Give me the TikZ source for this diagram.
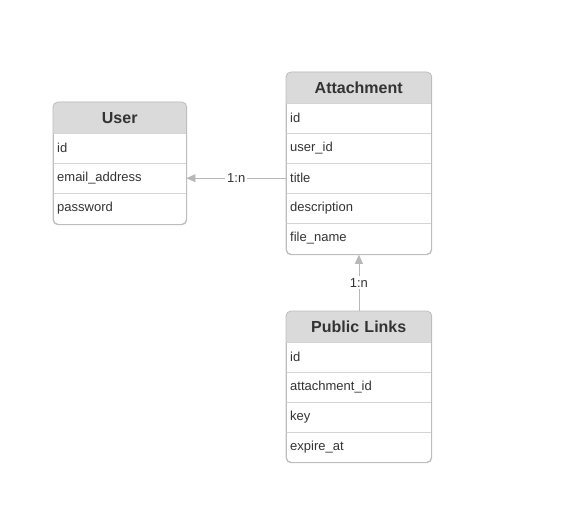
\documentclass[tikz,border=0pt]{standalone}
\usepackage{fontspec}
\setmainfont{Liberation Sans}
\usetikzlibrary{arrows.meta}
\definecolor{bd}{HTML}{BDBDBD}
\definecolor{sepc}{HTML}{D4D4D4}
\definecolor{hdr}{HTML}{DADADA}
\definecolor{txt}{HTML}{333333}
\definecolor{lnc}{HTML}{B8B8B8}
\begin{document}
\begin{tikzpicture}[x=1pt,y=-1pt,
  tbl/.style={draw=bd, fill=white, rounded corners=5pt, anchor=north west, inner sep=0pt, line width=0.8pt},
  hdrcell/.style={anchor=north west, minimum height=31pt, text width=#1, align=center, inner sep=0pt, font=\fontsize{16}{19}\selectfont\bfseries, text=txt},
  rowcell/.style={anchor=north west, minimum height=30pt, text width=#1, align=left, inner xsep=4pt, inner ysep=0pt, font=\fontsize{13}{15}\selectfont, text=txt},
  sepline/.style={draw=sepc, line width=0.8pt},
  conn/.style={draw=lnc, line width=0.8pt, -{Triangle[width=8pt,length=9pt]}},
  lbl/.style={fill=white, inner sep=2pt, font=\fontsize{13}{15}\selectfont, text=txt}
]
\useasboundingbox (0,0) rectangle (568,508);

% ---------- User ----------
\node[tbl, minimum width=133pt, minimum height=122pt] (user) at (53,102) {};
\begin{scope}
  \clip[rounded corners=5pt] (user.north west) rectangle (user.south east);
  \fill[hdr] (53,102) rectangle (186,133);
\end{scope}
\node[hdrcell=133pt] (user-h) at (53,102) {User};
\node[rowcell=125pt] (user-id) at (53,133) {id};
\node[rowcell=125pt] (user-email) at (53,163) {email\_address};
\node[rowcell=125pt] (user-pw) at (53,193) {password};
\foreach \r in {user-id,user-email,user-pw} \draw[sepline] (\r.north west) -- (\r.north east);
\draw[draw=bd, line width=0.8pt, rounded corners=5pt] (user.north west) rectangle (user.south east);

% ---------- Attachment ----------
\node[tbl, minimum width=145pt, minimum height=182pt] (att) at (286,72) {};
\begin{scope}
  \clip[rounded corners=5pt] (att.north west) rectangle (att.south east);
  \fill[hdr] (286,72) rectangle (431,103);
\end{scope}
\node[hdrcell=145pt] (att-h) at (286,72) {Attachment};
\node[rowcell=137pt] (att-id) at (286,103) {id};
\node[rowcell=137pt] (att-uid) at (286,133) {user\_id};
\node[rowcell=137pt] (att-title) at (286,163) {title};
\node[rowcell=137pt] (att-desc) at (286,193) {description};
\node[rowcell=137pt] (att-file) at (286,223) {file\_name};
\foreach \r in {att-id,att-uid,att-title,att-desc,att-file} \draw[sepline] (\r.north west) -- (\r.north east);
\draw[draw=bd, line width=0.8pt, rounded corners=5pt] (att.north west) rectangle (att.south east);

% ---------- Public Links ----------
\node[tbl, minimum width=145pt, minimum height=151pt] (pl) at (286,311) {};
\begin{scope}
  \clip[rounded corners=5pt] (pl.north west) rectangle (pl.south east);
  \fill[hdr] (286,311) rectangle (431,342);
\end{scope}
\node[hdrcell=145pt] (pl-h) at (286,311) {Public Links};
\node[rowcell=137pt] (pl-id) at (286,342) {id};
\node[rowcell=137pt] (pl-aid) at (286,372) {attachment\_id};
\node[rowcell=137pt] (pl-key) at (286,402) {key};
\node[rowcell=137pt] (pl-exp) at (286,432) {expire\_at};
\foreach \r in {pl-id,pl-aid,pl-key,pl-exp} \draw[sepline] (\r.north west) -- (\r.north east);
\draw[draw=bd, line width=0.8pt, rounded corners=5pt] (pl.north west) rectangle (pl.south east);

% ---------- Connectors ----------
\draw[conn] (att-title.west) -- node[lbl] {1:n} (user-email.east);
\draw[conn] (pl.north) -- node[lbl] {1:n} (att.south);
\end{tikzpicture}
\end{document}
